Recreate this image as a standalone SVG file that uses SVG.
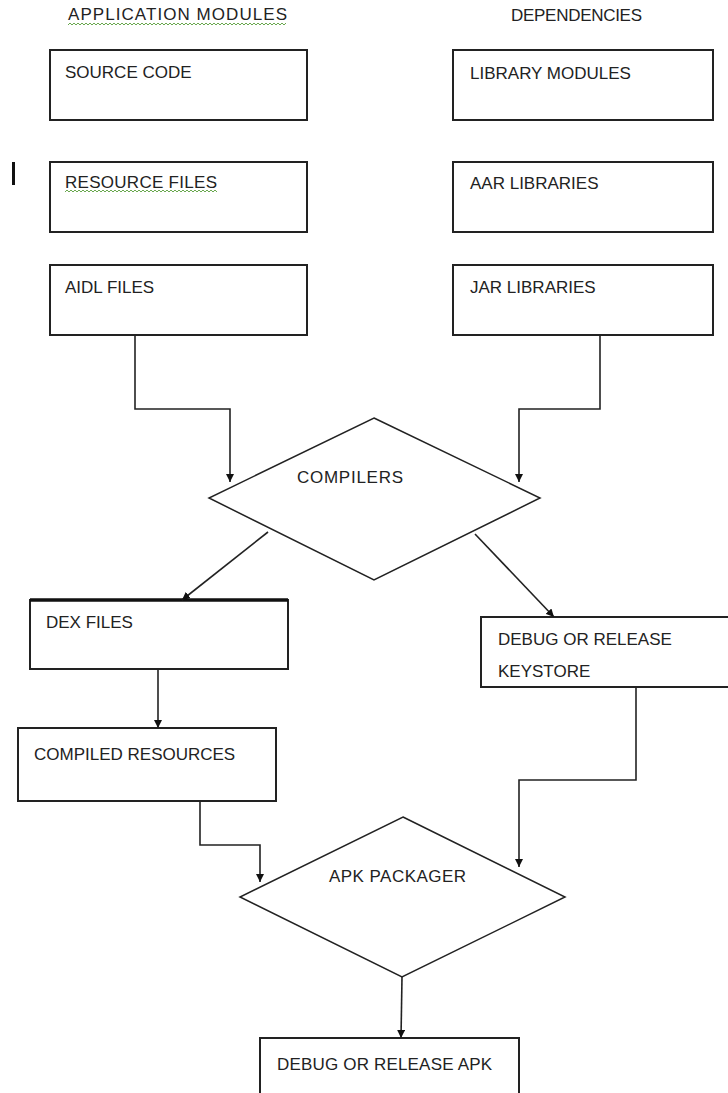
<svg xmlns="http://www.w3.org/2000/svg" width="728" height="1093" viewBox="0 0 728 1093">
<defs>
<marker id="arr" viewBox="0 0 10 10" refX="10" refY="5" markerWidth="8" markerHeight="8" markerUnits="userSpaceOnUse" orient="auto">
<path d="M0,0 L10,5 L0,10 z" fill="#111"/>
</marker>
<style>
.box{fill:#fff;stroke:#222;stroke-width:2}
.dia{fill:#fff;stroke:#222;stroke-width:1.5}
.t{font-family:"Liberation Sans",Arial,sans-serif;font-size:17px;fill:#222}
.c{fill:none;stroke:#222;stroke-width:1.6;marker-end:url(#arr)}
.wave{fill:none;stroke:#6aa84f;stroke-width:1}
</style>
</defs>
<rect width="728" height="1093" fill="#fff"/>
<text class="t" x="68" y="20" textLength="219">APPLICATION  MODULES</text>
<polyline class="wave" points="68,25 70,23 72,25 74,23 76,25 78,23 80,25 82,23 84,25 86,23 88,25 90,23 92,25 94,23 96,25 98,23 100,25 102,23 104,25 106,23 108,25 110,23 112,25 114,23 116,25 118,23 120,25 122,23 124,25 126,23 128,25 130,23 132,25 134,23 136,25 138,23 140,25 142,23 144,25 146,23 148,25 150,23 152,25 154,23 156,25 158,23 160,25 162,23 164,25 166,23 168,25 170,23 172,25 174,23 176,25 178,23 180,25 182,23 184,25 186,23 188,25 190,23 192,25 194,23 196,25 198,23 200,25 202,23 204,25 206,23 208,25 210,23 212,25 214,23 216,25 218,23 220,25 222,23 224,25 226,23 228,25 230,23 232,25 234,23 236,25 238,23 240,25 242,23 244,25 246,23 248,25 250,23 252,25 254,23 256,25 258,23 260,25 262,23 264,25 266,23 268,25 270,23 272,25 274,23 276,25 278,23 280,25 282,23 284,25 286,23"/>
<text class="t" x="511" y="21" textLength="131">DEPENDENCIES</text>
<rect x="12" y="162" width="3" height="23" fill="#111"/>

<g id="source-code"><rect class="box" x="50" y="50" width="257" height="70"/><text class="t" x="65" y="78">SOURCE CODE</text></g>
<g id="library-modules"><rect class="box" x="453" y="50" width="260" height="70"/><text class="t" x="470" y="79">LIBRARY MODULES</text></g>
<g id="resource-files"><rect class="box" x="50" y="162" width="257" height="70"/><text class="t" x="65" y="188" textLength="152">RESOURCE  FILES</text>
<polyline class="wave" points="65,192 67,190 69,192 71,190 73,192 75,190 77,192 79,190 81,192 83,190 85,192 87,190 89,192 91,190 93,192 95,190 97,192 99,190 101,192 103,190 105,192 107,190 109,192 111,190 113,192 115,190 117,192 119,190 121,192 123,190 125,192 127,190 129,192 131,190 133,192 135,190 137,192 139,190 141,192 143,190 145,192 147,190 149,192 151,190 153,192 155,190 157,192 159,190 161,192 163,190 165,192 167,190 169,192 171,190 173,192 175,190 177,192 179,190 181,192 183,190 185,192 187,190 189,192 191,190 193,192 195,190 197,192 199,190 201,192 203,190 205,192 207,190 209,192 211,190 213,192 215,190 217,192"/></g>
<g id="aar-libraries"><rect class="box" x="453" y="162" width="260" height="70"/><text class="t" x="470" y="189">AAR LIBRARIES</text></g>
<g id="aidl-files"><rect class="box" x="50" y="265" width="257" height="70"/><text class="t" x="65" y="293">AIDL FILES</text></g>
<g id="jar-libraries"><rect class="box" x="453" y="265" width="260" height="70"/><text class="t" x="470" y="293">JAR LIBRARIES</text></g>

<g id="compilers"><polygon class="dia" points="374,418 540,498 374,580 209,498"/><text class="t" x="297" y="483" textLength="106">COMPILERS</text></g>
<g id="dex-files"><rect class="box" x="30" y="600" width="258" height="69"/><line x1="30" y1="600" x2="288" y2="600" stroke="#111" stroke-width="3.5"/><text class="t" x="46" y="628">DEX FILES</text></g>
<g id="keystore"><rect class="box" x="481" y="617" width="260" height="70"/><text class="t" x="498" y="645">DEBUG OR RELEASE</text><text class="t" x="498" y="677">KEYSTORE</text></g>
<g id="compiled-resources"><rect class="box" x="18" y="728" width="258" height="73"/><text class="t" x="34" y="760">COMPILED RESOURCES</text></g>
<g id="apk-packager"><polygon class="dia" points="403,817 565,897 402,977 240,897"/><text class="t" x="329" y="882" textLength="137">APK PACKAGER</text></g>
<g id="apk"><rect class="box" x="260" y="1038" width="259" height="70"/><text class="t" x="277" y="1070" textLength="215">DEBUG OR RELEASE APK</text></g>

<g id="connectors">
<polyline class="c" points="135,335 135,409 230,409 230,482"/>
<polyline class="c" points="600,335 600,409 519,409 519,482"/>
<polyline class="c" points="268,532 182,600"/>
<polyline class="c" points="475,534 554,617"/>
<polyline class="c" points="158,669 158,728"/>
<polyline class="c" points="200,801 200,845 260,845 260,882"/>
<polyline class="c" points="636,687 636,780 519,780 519,867"/>
<polyline class="c" points="402,977 401,1038"/>
</g>
</svg>
